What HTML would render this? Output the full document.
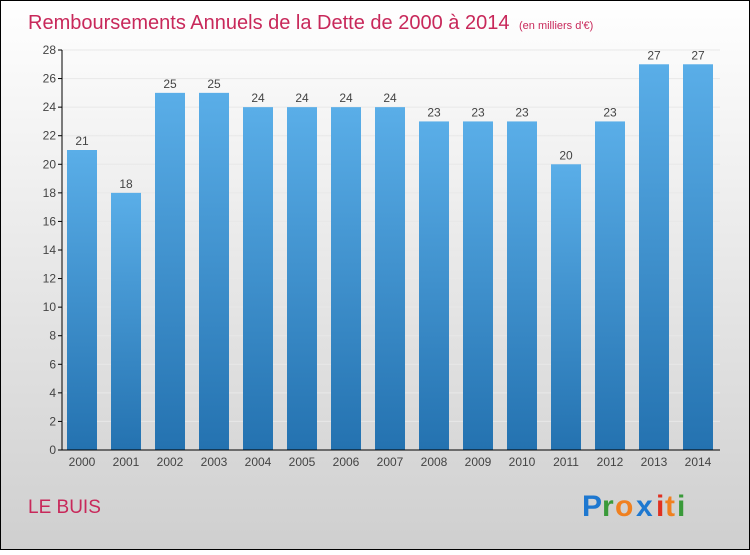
<!DOCTYPE html>
<html><head><meta charset="utf-8"><style>
html,body{margin:0;padding:0}
body{width:750px;height:550px;overflow:hidden;font-family:"Liberation Sans",sans-serif}
</style></head><body>
<svg id="c" width="750" height="550" xmlns="http://www.w3.org/2000/svg">
<defs>
<linearGradient id="bg" x1="0" y1="0" x2="0" y2="1"><stop offset="0" stop-color="#ffffff"/><stop offset="1" stop-color="#cfcfcf"/></linearGradient>
<linearGradient id="bar" x1="0" y1="0" x2="0" y2="1"><stop offset="0" stop-color="#5aaee8"/><stop offset="1" stop-color="#2472b0"/></linearGradient>
</defs>
<rect x="0.5" y="0.5" width="749" height="549" fill="url(#bg)" stroke="#000"/>
<text x="28" y="29" font-size="20" fill="#c8285a">Remboursements Annuels de la Dette de 2000 à 2014 <tspan font-size="11" dx="4">(en milliers d'€)</tspan></text>
<g id="grid"></g><g id="bars"></g><g id="axes"></g>
<text x="28" y="513" font-size="19" fill="#c8285a">LE BUIS</text>
<g font-size="30" font-weight="bold">
<text x="582" y="516" fill="#1e78d0">P</text><text x="602" y="516" fill="#3a9a3a">r</text><text x="615" y="516" fill="#f08020">o</text><text x="636" y="516" fill="#1e78d0">x</text><text x="656" y="516" fill="#e03020">i</text><text x="665" y="516" fill="#f08020">t</text><text x="677" y="516" fill="#3a9a3a">i</text>
</g>
</svg>
<script>
const categories=["2000","2001","2002","2003","2004","2005","2006","2007","2008","2009","2010","2011","2012","2013","2014"];
const values=[21,18,25,25,24,24,24,24,23,23,23,20,23,27,27];
const yTicks=[0,2,4,6,8,10,12,14,16,18,20,22,24,26,28];
const NS="http://www.w3.org/2000/svg";
const x0=62,x1=720,yb=450,yt=50,yMax=28;
const y=v=>yb-(yb-yt)*v/yMax;
const step=44;
const xc=i=>82+step*i;
function mk(t,a,p){const e=document.createElementNS(NS,t);for(const k in a)e.setAttribute(k,a[k]);p.appendChild(e);return e;}
const G=document.getElementById('grid'),B=document.getElementById('bars'),A=document.getElementById('axes');
yTicks.forEach(t=>{
 const l=mk('line',{x1:x0,x2:x1,y1:y(t),y2:y(t),stroke:'#e8e8e8'},G);
 
 
 const tk=mk('line',{x1:x0-4,x2:x0,y1:y(t),y2:y(t),stroke:'#000'},A);
 
 
 const tx=mk('text',{x:x0-6,y:y(t)+4,'font-size':12,fill:'#444','text-anchor':'end'},A);
 tx.textContent=t;
 
 
});
mk('line',{x1:x0,x2:x0,y1:yt,y2:yb,stroke:'#000'},A);
mk('line',{x1:x0,x2:x1,y1:yb,y2:yb,stroke:'#000'},A);
categories.forEach((c,i)=>{
 const w=30,v=values[i];
 const r=mk('rect',{x:xc(i)-w/2,y:y(v),width:w,height:yb-y(v),fill:'url(#bar)'},B);
 
 
 const vl=mk('text',{x:xc(i),y:y(v)-5,'font-size':12,fill:'#444','text-anchor':'middle'},B);
 vl.textContent=v;
 
 
 const xl=mk('text',{x:xc(i),y:yb+16,'font-size':12,fill:'#444','text-anchor':'middle'},A);
 xl.textContent=c;
 
 
});
</script>
</body></html>
